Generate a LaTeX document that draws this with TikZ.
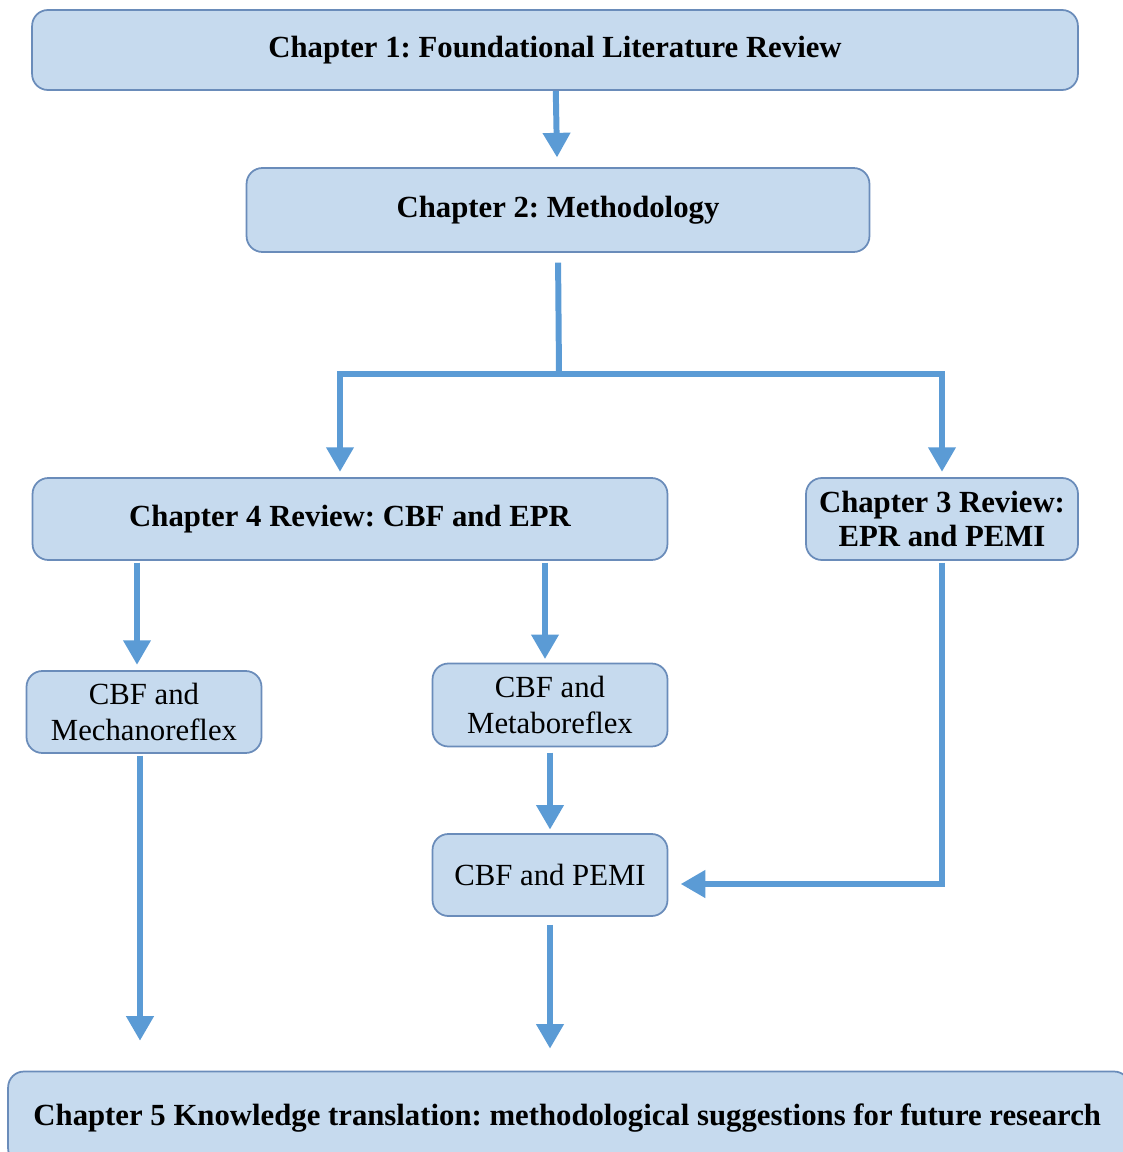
\documentclass[tikz,border=0pt]{standalone}
\usepackage{fontspec}
\setmainfont{Liberation Serif}
\usetikzlibrary{arrows.meta}
\definecolor{boxfill}{HTML}{C6DAEE}
\definecolor{boxline}{HTML}{6A8CBA}
\definecolor{flowblue}{HTML}{5B9BD5}
\frenchspacing

\begin{document}
\begin{tikzpicture}[x=0.02cm,y=-0.02cm,
        box/.style={draw=boxline,fill=boxfill,line width=1pt,rounded corners=9pt,align=center,inner sep=0pt},
        head/.style={font=\bfseries\fontsize{17.5}{19.5}\selectfont},
        plain/.style={font=\fontsize{17.5}{21}\selectfont},
        wire/.style={draw=flowblue,line width=3.4pt},
        flow/.style={wire,-{Triangle[width=15pt,length=14pt]}}]
        % frame
        \useasboundingbox (0,0) rectangle (1122,1152);
        % chapters
        \node[box,head,minimum width=20.92cm,minimum height=1.6cm] (ch1) at (555,50) {Chapter 1: Foundational Literature Review};
        \node[box,head,minimum width=12.46cm,minimum height=1.68cm] (ch2) at (558,210) {Chapter 2: Methodology};
        \node[box,head,minimum width=12.7cm,minimum height=1.64cm] (ch4) at (350,519) {Chapter 4 Review: CBF and EPR};
        \node[box,head,minimum width=5.44cm,minimum height=1.64cm] (ch3) at (942,519) {Chapter 3 Review:\\EPR and PEMI};
        % topics
        \node[box,plain,minimum width=4.7cm,minimum height=1.64cm] (mech) at (144,712) {CBF and\\Mechanoreflex};
        \node[box,plain,minimum width=4.7cm,minimum height=1.66cm] (meta) at (550,705) {CBF and\\Metaboreflex};
        \node[box,plain,minimum width=4.7cm,minimum height=1.64cm] (pemi) at (550,875) {CBF and PEMI};
        \node[box,head,minimum width=22.44cm,minimum height=1.86cm] (ch5) at (569,1118) {\hspace{-2pt}Chapter 5 Knowledge translation: methodological suggestions for future research};
        % connectors
        \coordinate (split) at (559,374);
        \coordinate (left) at (340,374);
        \draw[flow,shorten >=5.5pt] (ch1) -- (ch2);
        \draw[wire,shorten <=5.5pt] (ch2.south) -- (split);
        \draw[flow,shorten >=3pt] (split) -- (left) -- (left |- ch4.north);
        \draw[flow,shorten >=3pt] (split) -| (ch3.north);
        \draw[flow,shorten >=3pt,shorten <=1pt] ([xshift=-0.14cm]mech.north |- ch4.south) -- ([xshift=-0.14cm]mech.north);
        \draw[flow,shorten >=2pt,shorten <=1pt] ([xshift=-0.1cm]meta.north |- ch4.south) -- ([xshift=-0.1cm]meta.north);
        \draw[flow,shorten >=2pt,shorten <=3pt] (meta) -- (pemi);
        \draw[flow,shorten >=7pt,shorten <=1pt] (ch3.south) |- ([yshift=-0.18cm]pemi.east);
        \draw[flow,shorten >=17pt,shorten <=1pt] ([xshift=-0.08cm]mech.south) -- ([xshift=-0.08cm]mech.south |- ch5.north);
        \draw[flow,shorten >=12.5pt,shorten <=4.5pt] (pemi) -- (pemi |- ch5.north);
\end{tikzpicture}
\end{document}
